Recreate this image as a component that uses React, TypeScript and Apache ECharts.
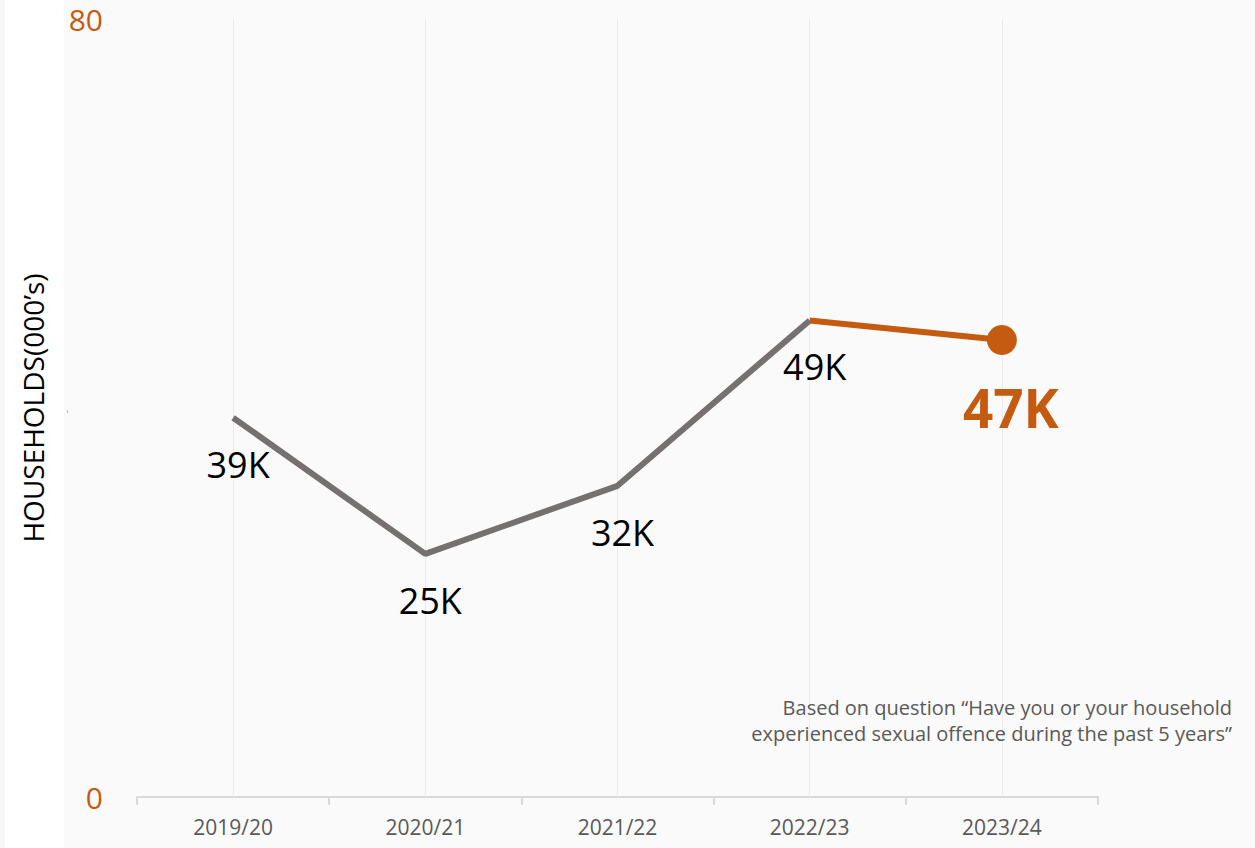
import React, { useEffect, useRef } from "react";
import * as echarts from "echarts";

const categories = ["2019/20", "2020/21", "2021/22", "2022/23", "2023/24"];
const grayValues: (number | string)[] = [39, 25, 32, 49, "-"];
const orangeValues: (number | string)[] = ["-", "-", "-", 49, 47];
const yTicks = [0, 80];
const noteLines = [
  "Based on question \u201cHave you or your household",
  "experienced sexual offence during the past 5 years\u201d",
];

const FONT = '"Open Sans", "Noto Sans", sans-serif';
const ORANGE = "#c55a11";
const GRAY = "#767171";

export default function App() {
  const ref = useRef<HTMLDivElement>(null);
  useEffect(() => {
    if (!ref.current) return;
    const chart = echarts.init(ref.current, undefined, { renderer: "svg" });
    chart.setOption({
      animation: false,
      backgroundColor: "#ffffff",
      textStyle: { fontFamily: FONT },
      graphic: [
        {
          type: "rect",
          left: 64,
          top: 0,
          z: -10,
          shape: { width: 1191, height: 848 },
          style: { fill: "#fafafa" },
          silent: true,
        },
        {
          type: "rect",
          left: 0,
          top: 0,
          z: -10,
          shape: { width: 5, height: 848 },
          style: { fill: "#f7f7f7" },
          silent: true,
        },
        {
          type: "rect",
          left: 67,
          top: 410,
          shape: { width: 1, height: 3 },
          style: { fill: "#f4b183" },
          silent: true,
        },
        {
          type: "text",
          right: 23,
          top: 694,
          z: 100,
          style: {
            text: noteLines.join("\n"),
            font: `20px ${FONT}`,
            fill: "#595959",
            textAlign: "right",
            lineHeight: 26,
            backgroundColor: "transparent",
          },
        },
      ],
      grid: { left: 137, right: 157, top: 19, bottom: 51, containLabel: false },
      xAxis: {
        type: "category",
        data: categories,
        boundaryGap: true,
        axisLine: { show: true, lineStyle: { color: "#d9d9d9", width: 2 } },
        axisTick: { show: true, length: 8, lineStyle: { color: "#d9d9d9", width: 2 } },
        axisLabel: { color: "#595959", fontSize: 21, margin: 19, fontFamily: FONT },
        splitLine: { show: false },
      },
      yAxis: {
        type: "value",
        min: 0,
        max: 80,
        interval: 80,
        axisLine: { show: false },
        axisTick: { show: false },
        splitLine: { show: false },
        axisLabel: {
          color: ORANGE,
          fontSize: 30,
          margin: 34,
          fontFamily: FONT,
          formatter: (v: number) => (yTicks.includes(v) ? String(v) : ""),
        },
        name: "HOUSEHOLDS(000\u2019s)",
        nameLocation: "middle",
        nameGap: 90,
        nameRotate: 90,
        nameTextStyle: { color: "#000000", fontSize: 28, fontFamily: FONT },
      },
      series: [
        {
          type: "line",
          data: grayValues,
          symbol: "circle",
          symbolSize: 1,
          itemStyle: { color: "rgba(0,0,0,0)" },
          lineStyle: { color: GRAY, width: 6 },
          z: 3,
          label: {
            show: true,
            position: "bottom",
            distance: 28,
            offset: [5, 0],
            color: "#000000",
            fontSize: 36,
            fontFamily: FONT,
            formatter: (p: any) => `${p.value}K`,
          },
          markLine: {
            silent: true,
            symbol: ["none", "none"],
            label: { show: false },
            z: 1,
            lineStyle: { color: "#ebebeb", width: 1, type: "solid" },
            data: categories.map((c) => ({ xAxis: c })),
          },
        },
        {
          type: "line",
          data: orangeValues,
          symbol: "circle",
          symbolSize: (v: any, p: any) => (p.dataIndex === 4 ? 30 : 0),
          showAllSymbol: true,
          itemStyle: { color: ORANGE },
          lineStyle: { color: ORANGE, width: 6 },
          z: 4,
          label: {
            show: true,
            position: "bottom",
            distance: 26,
            offset: [9, 0],
            color: ORANGE,
            fontSize: 53,
            fontWeight: "bold",
            fontFamily: FONT,
            formatter: (p: any) => (p.dataIndex === 4 ? `${p.value}K` : ""),
          },
        },
      ],
    });
    return () => chart.dispose();
  }, []);
  return (
    <div
      ref={ref}
      style={{ position: "absolute", left: 0, top: 0, width: 1255, height: 848 }}
    />
  );
}
